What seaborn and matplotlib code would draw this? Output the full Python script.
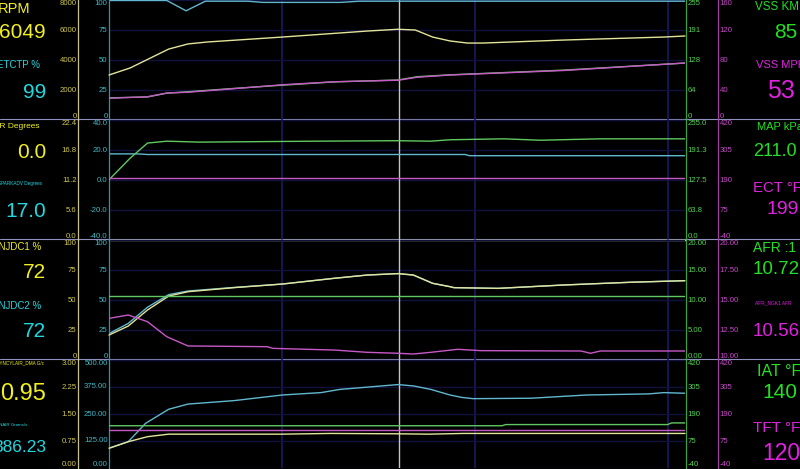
import numpy as np
import matplotlib
import matplotlib.pyplot as plt
import seaborn as sns

matplotlib.use('Agg')

# time in seconds, grid every second, cursor at 1.60 s
x_range = (0.10, 3.09)
cursor_t = 1.603

# panel 1
rpm_t = [0.10, 0.21, 0.41, 0.51, 0.61, 1.00, 1.44, 1.60, 1.69, 1.78, 1.87, 1.96, 2.04, 2.46, 2.98, 3.09]
rpm = [3000, 3470, 4730, 5070, 5200, 5530, 5930, 6049, 6000, 5530, 5270, 5130, 5130, 5330, 5530, 5600]
etctp_t = [0.10, 0.40, 0.50, 0.60, 0.82, 0.90, 1.30, 1.40, 3.09]
etctp = [99.6, 99.6, 91, 99, 99, 98, 98, 99, 99]
vss_t = [0.10, 0.30, 0.40, 0.51, 0.71, 1.00, 1.27, 1.60, 1.70, 1.87, 2.46, 3.09]
vss_kmh = [47, 49, 57, 60, 66, 74, 81, 85, 92, 96, 106, 121]
vss_mph = [29, 31, 36, 37, 41, 47, 51, 53, 57, 60, 66, 76]

# panel 2
spark_t = [0.10, 0.25, 0.30, 1.95, 1.97, 3.09]
spark = [17.4, 17.4, 17.0, 17.0, 16.2, 16.2]
kr_t = [0.10, 3.09]
kr = [0.0, 0.0]
map_t = [0.10, 0.21, 0.30, 0.40, 0.57, 1.18, 1.60, 1.77, 1.87, 2.15, 2.34, 2.65, 3.09]
map_kpa = [128, 174, 206, 210, 208, 210, 211, 210, 213, 215, 212, 215, 215]
ect_t = [0.10, 3.09]
ect = [199, 199]

# panel 3
inj_t = [0.10, 0.20, 0.30, 0.41, 0.51, 0.75, 1.00, 1.27, 1.44, 1.60, 1.68, 1.78, 1.87, 1.89, 2.12, 2.46, 2.81, 3.09]
injdc1 = [20.8, 28.3, 41.7, 53.3, 56.9, 60.3, 63.3, 68.1, 70.8, 72, 70.8, 63.9, 61.1, 60.3, 59.7, 62.5, 64.8, 66.1]
injdc2 = [22.0, 30.5, 44.0, 54.5, 57.5, 60.5, 63.3, 68.1, 70.8, 72, 70.8, 63.9, 61.1, 60.3, 59.7, 62.5, 64.8, 66.1]
afr_t = [0.10, 3.09]
afr = [10.72, 10.72]
ngk_t = [0.10, 0.20, 0.30, 0.40, 0.51, 0.92, 0.95, 1.27, 1.44, 1.60, 1.68, 1.77, 1.91, 2.03, 2.55, 2.60, 2.65, 3.09]
ngk_afr = [13.47, 13.75, 13.19, 11.94, 11.17, 11.11, 10.97, 10.83, 10.64, 10.56, 10.50, 10.64, 10.89, 10.78, 10.75, 10.56, 10.75, 10.75]

# panel 4
dynair_t = [0.10, 0.20, 0.29, 0.41, 0.51, 0.75, 1.00, 1.20, 1.30, 1.60, 1.68, 1.77, 1.87, 1.93, 1.99, 2.29, 2.58, 2.90, 2.98, 3.09]
dynair = [91, 122, 207, 272, 296, 312, 338, 349, 364, 386.23, 380, 364, 338, 327, 321, 323, 338, 343, 349, 346]
cylair_t = [0.10, 0.20, 0.30, 0.41, 1.00, 1.25, 1.60, 1.76, 1.94, 3.09]
cylair = [0.55, 0.73, 0.87, 0.94, 0.94, 0.96, 0.95, 0.94, 0.96, 0.96]
iat_t = [0.10, 2.14, 2.16, 3.00, 3.02, 3.09]
iat = [140, 140, 145, 145, 152, 152]
tft_t = [0.10, 3.09]
tft = [120, 120]

Y_TXT, C_TXT, G_TXT, M_TXT = '#f2f020', '#22d8e0', '#22e022', '#e022e0'
Y_TICK, C_TICK, G_TICK, M_TICK = '#d0c850', '#40b8c8', '#50d050', '#c848c8'
Y_LINE, C_LINE, G_LINE, M_LINE = '#e4e498', '#60b8d0', '#60c860', '#c858c8'
Y_SPINE, C_SPINE, G_SPINE, M_SPINE = '#c8c090', '#3890a8', '#40a040', '#a040a0'
GRID_V = '#1a1a62'
GRID_H = '#111140'
SEP = '#9090c0'

sns.set_style('dark', {'axes.facecolor': 'none', 'figure.facecolor': 'black'})
plt.rcParams['font.family'] = ['Liberation Sans', 'DejaVu Sans']

W, H = 800, 469
fig = plt.figure(figsize=(W / 100, H / 100), dpi=100, facecolor='black')

# overlay in pixel coords for separators and right-hand readouts
ov = fig.add_axes([0, 0, 1, 1])
ov.set_xlim(0, W)
ov.set_ylim(H, 0)
ov.axis('off')
for y in (119.5, 239.5, 359.5):
    ov.axhline(y, color=SEP, lw=0.8)

panels = [(0, 120), (120, 240), (240, 360), (360, 468)]
x0, x1 = 109, 685


def setup(a, side, pos, spine_color, tick_color, lo, hi, labels):
    a.set_ylim(lo, hi)
    a.set_yticks(np.linspace(lo, hi, 5))
    a.set_yticklabels(labels)
    if side == 'left':
        a.yaxis.tick_left()
    else:
        a.yaxis.tick_right()
    for s in a.spines.values():
        s.set_visible(False)
    a.spines[side].set_visible(True)
    a.spines[side].set_position(('axes', pos))
    a.spines[side].set_color(spine_color)
    a.spines[side].set_linewidth(0.9)
    a.tick_params(axis='y', length=0, pad=1.0, labelsize=5.6, labelcolor=tick_color)
    a.set_ylabel('')
    a.set_xlabel('')
    for tk, va in zip(a.yaxis.get_major_ticks(), ['bottom', 'center', 'center', 'center', 'top']):
        tk.label1.set_va(va)
        tk.label2.set_va(va)


specs = [
    dict(main=(etctp_t, etctp, (0, 100), ['0', '25', '50', '75', '100']),
         l1=(rpm_t, rpm, (0, 8000), ['0', '2000', '4000', '6000', '8000']),
         r1=(vss_t, vss_kmh, (0, 255), ['0', '64', '128', '191', '255']),
         r2=(vss_t, vss_mph, (0, 160), ['0', '40', '80', '120', '160'])),
    dict(main=(spark_t, spark, (-40, 40), ['-40.0', '-20.0', '0.0', '20.0', '40.0']),
         l1=(kr_t, kr, (0, 22.4), ['0.0', '5.6', '11.2', '16.8', '22.4']),
         r1=(map_t, map_kpa, (0, 255), ['0.0', '63.8', '127.5', '191.3', '255.0']),
         r2=(ect_t, ect, (-40, 420), ['-40', '75', '190', '305', '420'])),
    dict(main=(inj_t, injdc2, (0, 100), ['0', '25', '50', '75', '100']),
         l1=(inj_t, injdc1, (0, 100), ['0', '25', '50', '75', '100']),
         r1=(afr_t, afr, (0, 20), ['0.00', '5.00', '10.00', '15.00', '20.00']),
         r2=(ngk_t, ngk_afr, (10, 20), ['10.00', '12.50', '15.00', '17.50', '20.00'])),
    dict(main=(dynair_t, dynair, (0, 500), ['0.00', '125.00', '250.00', '375.00', '500.00']),
         l1=(cylair_t, cylair, (0, 3), ['0.00', '0.75', '1.50', '2.25', '3.00']),
         r1=(iat_t, iat, (-40, 420), ['-40', '75', '190', '305', '420']),
         r2=(tft_t, tft, (-40, 420), ['-40', '75', '190', '305', '420'])),
]

for (top, bot), sp in zip(panels, specs):
    ax = fig.add_axes([x0 / W, 1 - bot / H, (x1 - x0) / W, (bot - top) / H])
    ax.set_facecolor('none')
    l1 = ax.twinx()
    r1 = ax.twinx()
    r2 = ax.twinx()

    ax.axvline(cursor_t, color='#c4c4c4', lw=1.0, zorder=1)
    t, v, _, _ = sp['main']
    sns.lineplot(x=t, y=v, ax=ax, color=C_LINE, lw=1.0, legend=False)
    t, v, _, _ = sp['l1']
    sns.lineplot(x=t, y=v, ax=l1, color=Y_LINE, lw=1.0, legend=False, clip_on=False)
    t, v, _, _ = sp['r1']
    sns.lineplot(x=t, y=v, ax=r1, color=G_LINE, lw=1.0, legend=False)
    t, v, _, _ = sp['r2']
    sns.lineplot(x=t, y=v, ax=r2, color=M_LINE, lw=1.0, legend=False)

    ax.set_xlim(*x_range)
    ax.set_xticks([1, 2, 3])
    ax.tick_params(axis='x', length=0, labelbottom=False)

    setup(ax, 'left', 0.0, C_SPINE, C_TICK, *sp['main'][2], sp['main'][3])
    setup(l1, 'left', (78 - x0) / (x1 - x0), Y_SPINE, Y_TICK, *sp['l1'][2], sp['l1'][3])
    setup(r1, 'right', 1.002, G_SPINE, G_TICK, *sp['r1'][2], sp['r1'][3])
    setup(r2, 'right', (718 - x0) / (x1 - x0), M_SPINE, M_TICK, *sp['r2'][2], sp['r2'][3])
    ax.grid(True, axis='x', color=GRID_V, lw=1.2)
    ax.grid(True, axis='y', color=GRID_H, lw=1.0)

# left readouts, clipped at the panel edge
lp = fig.add_axes([0, 0, 44 / W, 1])
lp.set_xlim(0, 44)
lp.set_ylim(H, 0)
lp.axis('off')
left_labels = [
    ('RPM', 30, 9, 10.5, Y_TXT, 'right'),
    ('ETCTP %', 40, 65.5, 7, C_TXT, 'right'),
    ('KR Degrees', 39, 127, 6, Y_TXT, 'right'),
    ('SPARKADV Degrees', 42, 183.5, 3.3, C_TXT, 'right'),
    ('INJDC1 %', 41, 246.5, 7, Y_TXT, 'right'),
    ('INJDC2 %', 41, 306, 7, C_TXT, 'right'),
    ('DYNCYLAIR_DMA G/cyl', -3.5, 364, 3.3, Y_TXT, 'left'),
    ('DYNAIR Grams/s', 27, 424.5, 3.2, C_TXT, 'right'),
]
for txt, x, y, fs, c, ha in left_labels:
    lp.text(x, y, txt, color=c, fontsize=fs, ha=ha, va='center', clip_on=True)

left_values = [
    ('6049', 32.5, 15, Y_TXT), ('99', 92.5, 15, C_TXT),
    ('0.0', 152.5, 15, Y_TXT), ('17.0', 211.5, 15, C_TXT),
    ('72', 272.5, 15, Y_TXT), ('72', 331.5, 15, C_TXT),
    ('0.95', 393.5, 17, Y_TXT), ('386.23', 447.5, 12.5, C_TXT),
]
for txt, y, fs, c in left_values:
    lp.text(46, y, txt, color=c, fontsize=fs, ha='right', va='center', clip_on=False)

right_texts = [
    ('VSS KMH', 755, 6.5, 8.4, G_TXT), ('85', 774, 32.5, 15, G_TXT),
    ('VSS MPH', 756, 65, 8.0, M_TXT), ('53', 767, 91, 18, M_TXT),
    ('MAP kPa', 757, 126.5, 8.0, G_TXT), ('211.0', 753, 151.5, 13, G_TXT),
    ('ECT °F', 753, 188, 10.7, M_TXT), ('199', 766, 210, 14, M_TXT),
    ('AFR :1', 753, 248, 10, G_TXT), ('10.72', 753, 270, 13.5, G_TXT),
    ('AFR_NGK1 AFR', 755, 302.5, 3.5, M_TXT), ('10.56', 753, 331.5, 13.5, M_TXT),
    ('IAT °F', 757, 371, 11.5, G_TXT), ('140', 762, 392.5, 15, G_TXT),
    ('TFT °F', 753, 428.5, 11, M_TXT), ('120', 762, 453.5, 16.5, M_TXT),
]
for txt, x, y, fs, c in right_texts:
    ov.text(x, y, txt, color=c, fontsize=fs, ha='left', va='center')

fig.savefig('out.png', dpi=100, facecolor='black')
